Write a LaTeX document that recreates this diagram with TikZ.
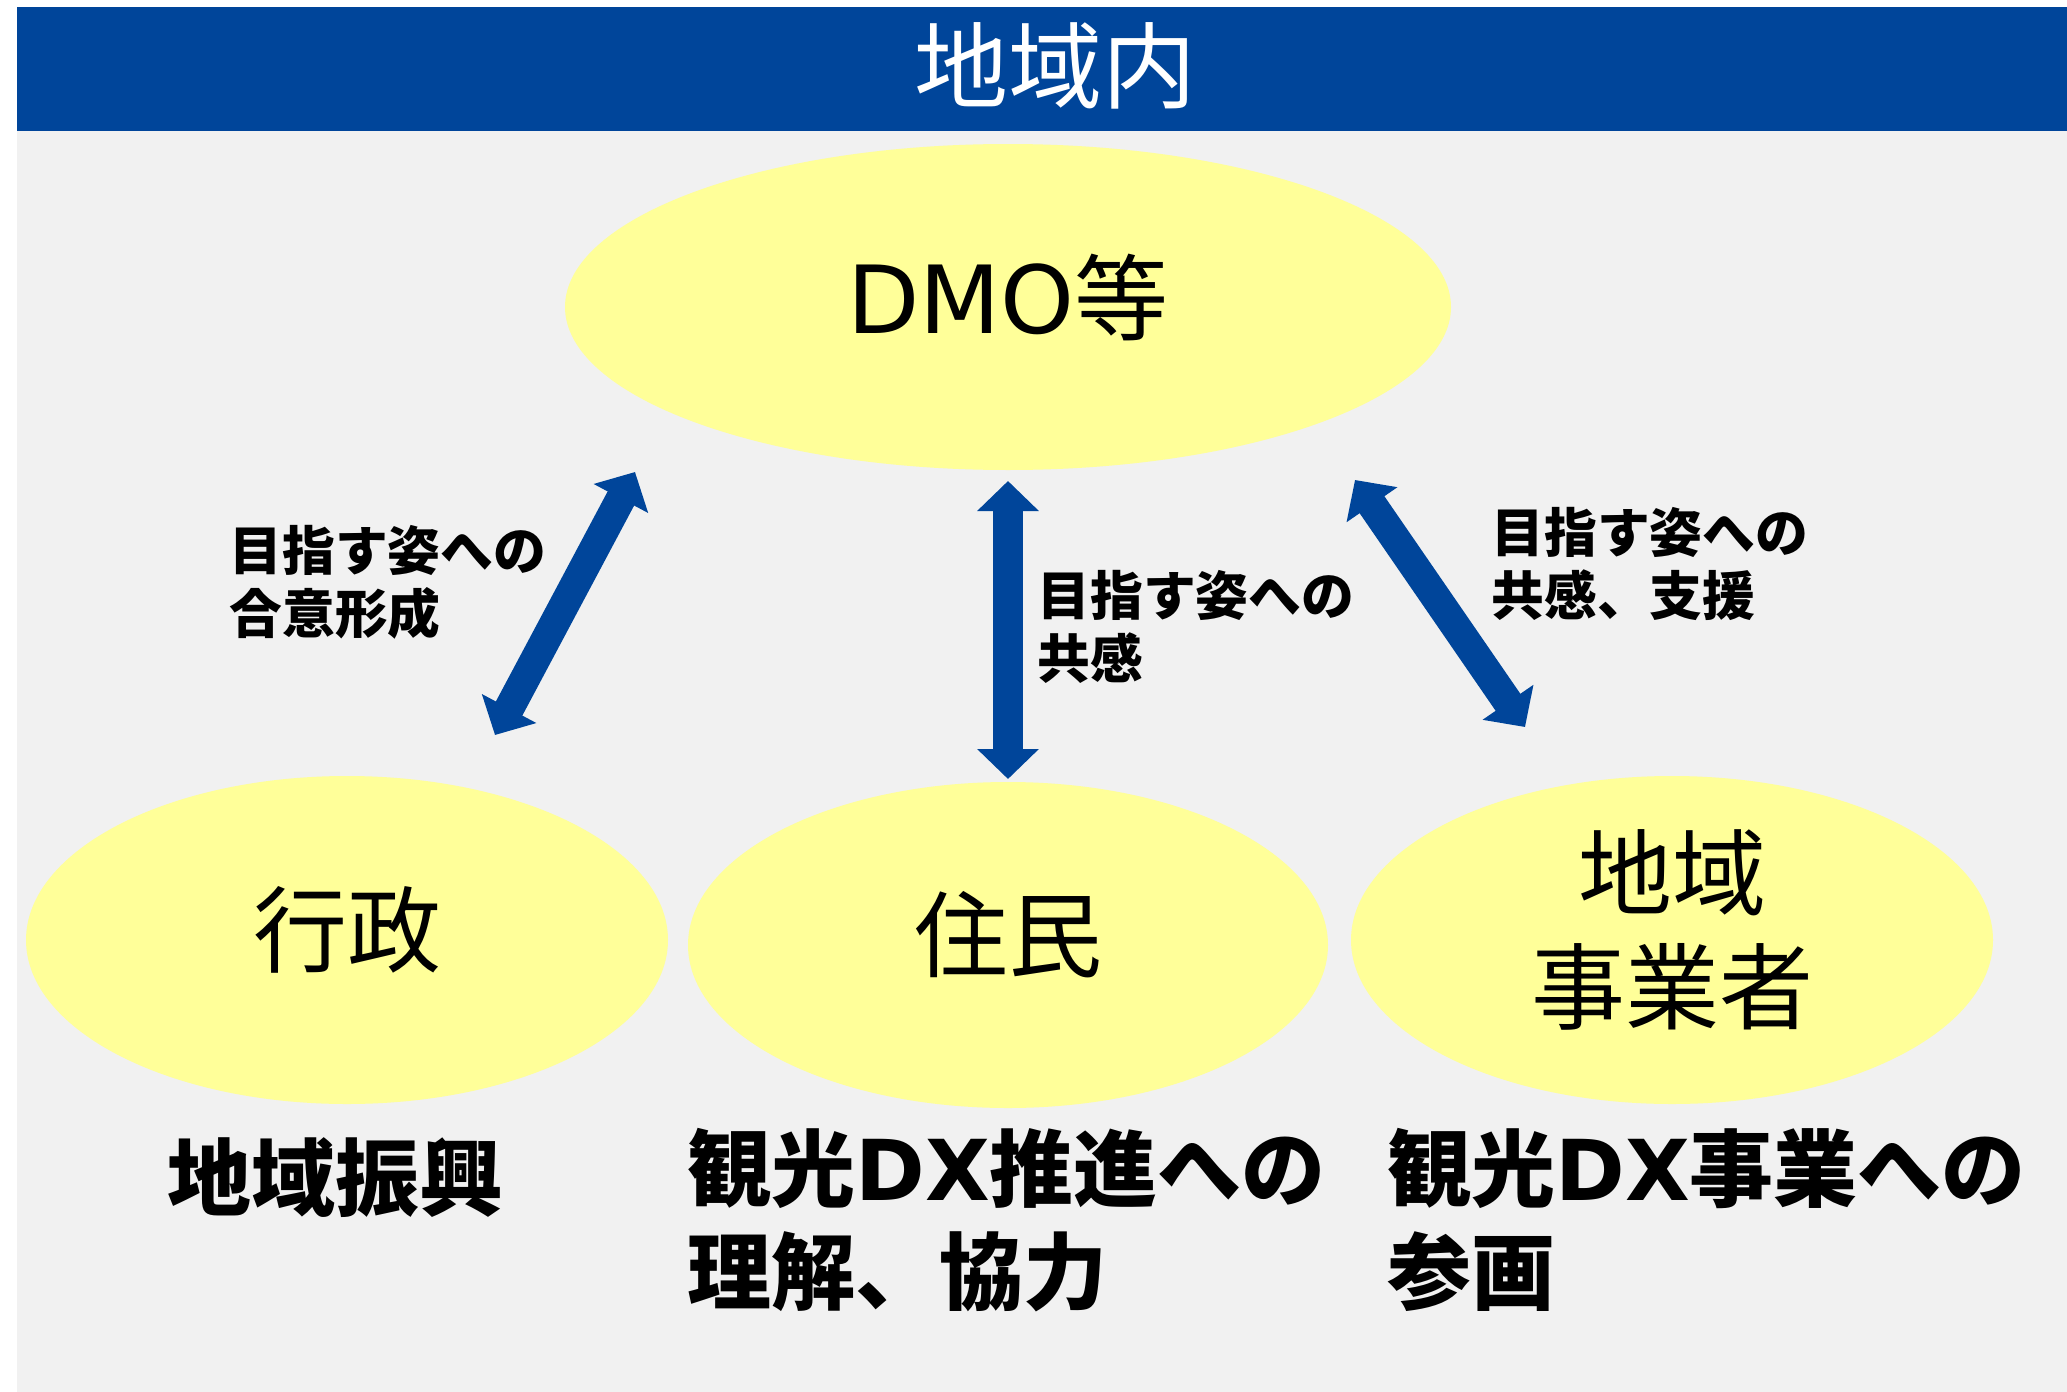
\documentclass[tikz,border=0pt]{standalone}
\usepackage{fontspec}
\setmainfont{Noto Sans CJK JP}
\newfontfamily\latinfam{DejaVu Sans}
\usetikzlibrary{arrows.meta,shapes.geometric}
\definecolor{barblue}{RGB}{0,69,154}
\definecolor{ellyellow}{RGB}{255,255,153}
\definecolor{bggray}{RGB}{241,241,241}
\tikzset{
  actor/.style={ellipse, fill=ellyellow, inner sep=0pt},
  actortext/.style={align=center, inner sep=0pt, yshift=5pt,
    font=\fontsize{47}{57}\selectfont},
  dblarrow/.style={line width=15pt, draw=barblue,
    {Triangle[width=30pt,length=15pt]}-{Triangle[width=30pt,length=15pt]}},
  arrlabel/.style={anchor=west, align=left, inner sep=0pt,
    font=\fontsize{26.4}{31.5}\selectfont\bfseries},
  roletext/.style={anchor=west, align=left, inner sep=0pt,
    font=\fontsize{42}{51.5}\selectfont\bfseries}
}
\begin{document}
\begin{tikzpicture}[x=0.5pt,y=-0.5pt]
\useasboundingbox (0,0) rectangle (2067,1392);
\fill[bggray] (17,131) rectangle (2067,1392);
\fill[barblue] (17,7) rectangle (2067,131);
\node[text=white, inner sep=0pt, font=\fontsize{47}{56}\selectfont] (title) at (1055,66) {地域内};

\node[actor, minimum width=443pt, minimum height=163pt,
  label={[actortext]center:{\latinfam DMO}等}] (dmo) at (1008,307) {};
\node[actor, minimum width=321pt, minimum height=164pt,
  label={[actortext]center:行政}] (gyosei) at (347,940) {};
\node[actor, minimum width=320pt, minimum height=163pt,
  label={[actortext]center:住民}] (jumin) at (1008,945) {};
\node[actor, minimum width=321pt, minimum height=164pt,
  label={[actortext]center:地域\\事業者}] (jigyo) at (1672,940) {};

\coordinate (a1) at (635,472);
\coordinate (b1) at (495,735);
\coordinate (a2) at (1008,481);
\coordinate (b2) at (1008,779);
\coordinate (a3) at (1355,480);
\coordinate (b3) at (1525,727);
\draw[dblarrow] (a1) -- (b1);
\draw[dblarrow] (a2) -- (b2);
\draw[dblarrow] (a3) -- (b3);

\node[arrlabel] (l1) at (229,582) {目指す姿への\\合意形成};
\node[arrlabel] (l2) at (1037,627) {目指す姿への\\共感};
\node[arrlabel] (l3) at (1491,564) {目指す姿への\\共感、支援};

\node[roletext] (r1) at (167,1178) {地域振興};
\node[roletext] (r2) at (687,1220) {観光{\latinfam DX}推進への\\理解、協力};
\node[roletext] (r3) at (1387,1220) {観光{\latinfam DX}事業への\\参画};
\end{tikzpicture}
\end{document}
